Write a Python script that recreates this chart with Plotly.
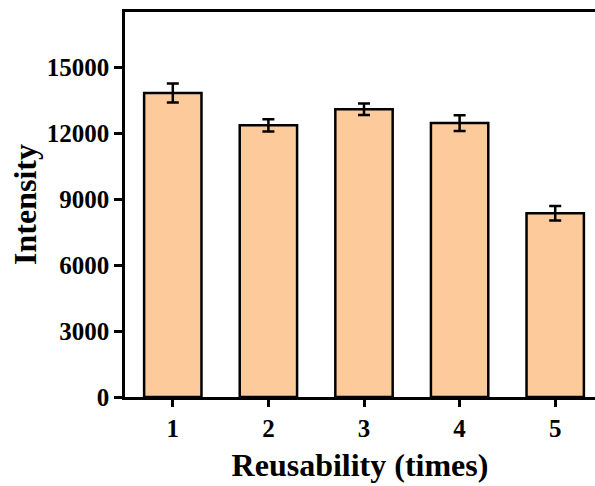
import plotly.graph_objects as go

categories = [1, 2, 3, 4, 5]
intensity = [13820, 12350, 13080, 12450, 8350]
errors = [430, 280, 260, 360, 330]
y_ticks = [0, 3000, 6000, 9000, 12000, 15000]
y_tick_labels = ["0", "3000", "6000", "9000", "12000", "15000"]

FONT = "Liberation Serif"

fig = go.Figure()
fig.add_trace(go.Bar(
    x=categories, y=intensity, width=0.6,
    marker=dict(color="#FDCB9B", line=dict(color="black", width=2.5)),
    error_y=dict(type="data", array=errors, visible=True, color="black",
                 thickness=2.5, width=6),
))

fig.update_layout(
    width=595, height=486,
    margin=dict(l=125, r=0, t=12, b=89),
    paper_bgcolor="white", plot_bgcolor="white",
    showlegend=False,
    font=dict(family=FONT, color="black"),
)
fig.update_xaxes(
    range=[0.5, 5.5 - 8 / 95.5], tickvals=categories,
    showline=True, linecolor="black", linewidth=2.5, mirror=True,
    ticks="outside", ticklen=7, tickwidth=2.5, tickcolor="black",
    tickfont=dict(family=FONT, size=25, color="black", weight="bold"),
    showgrid=False, zeroline=False, automargin=False,
    title=dict(text="<b>Reusability (times)</b>", font=dict(family=FONT, size=32), standoff=13),
)
fig.update_yaxes(
    range=[0, 17500], tickvals=y_ticks, ticktext=y_tick_labels,
    showline=True, linecolor="black", linewidth=2.5,
    ticks="outside", ticklen=8, tickwidth=2.5, tickcolor="black",
    tickfont=dict(family=FONT, size=25, color="black", weight="bold"),
    showgrid=False, zeroline=False, automargin=False,
    title=dict(text="<b>Intensity</b>", font=dict(family=FONT, size=32), standoff=1),
)

fig.write_html("out.html", config={"displayModeBar": False},
               post_script="document.body.style.margin='0';")
